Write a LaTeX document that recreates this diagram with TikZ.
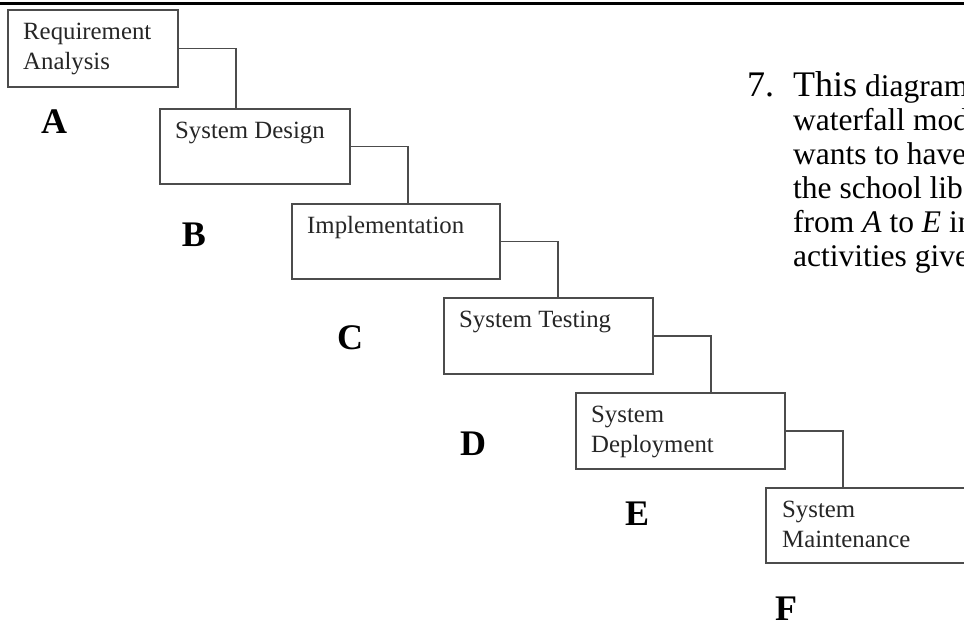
\documentclass[tikz,border=0pt]{standalone}
\usepackage{fontspec}
\setmainfont{Liberation Serif}
\usepackage{tikz}
\usetikzlibrary{positioning, calc}

\begin{document}
\begin{tikzpicture}[x=1pt, y=-1pt,
    stage/.style={draw=black!70, line width=1.8pt, fill=white, inner sep=0pt, anchor=north west},
    stagetext/.style={inner sep=0pt, anchor=north west, align=left, text=black!85,
        font=\fontsize{24.8}{30}\selectfont},
    link/.style={draw=black!70, line width=1.8pt},
    letter/.style={font=\fontsize{36}{40}\selectfont\bfseries},
    qtext/.style={inner sep=0pt, anchor=base west, font=\fontsize{31.5}{35}\selectfont}]
    \useasboundingbox (0,0) rectangle (964,624);
    \clip (0,0) rectangle (964,624);

    % rule on top
    \draw[line width=3pt] (0,3) -- (964,3);

    % stages
    \node[stage, minimum width=170, minimum height=77] (ra) at (7,9) {};
    \node[stage, minimum width=190, minimum height=75] (sd) at (159,108) {};
    \node[stage, minimum width=208, minimum height=75] (im) at (291,203) {};
    \node[stage, minimum width=209, minimum height=76] (st) at (443,297) {};
    \node[stage, minimum width=209, minimum height=76] (dp) at (575,392) {};
    \node[stage, minimum width=260, minimum height=75] (mt) at (765,487) {};

    \node[stagetext] (ra-t) at ([shift={(16,9)}]ra.north west) {\strut Requirement\\Analysis};
    \node[stagetext] (sd-t) at ([shift={(16,9)}]sd.north west) {\strut System Design};
    \node[stagetext] (im-t) at ([shift={(16,9)}]im.north west) {\strut Implementation};
    \node[stagetext] (st-t) at ([shift={(16,9)}]st.north west) {\strut System Testing};
    \node[stagetext] (dp-t) at ([shift={(16,9)}]dp.north west) {\strut System\\Deployment};
    \node[stagetext] (mt-t) at ([shift={(17,9)}]mt.north west) {\strut System\\Maintenance};

    % steps between stages
    \foreach \a/\b in {ra/sd, sd/im, im/st, st/dp, dp/mt}
        \draw[link] (\a.east) -- ++(57,0) coordinate (\a-k) -- (\a-k |- \b.north);

    % letters
    \node[letter] (la) at (54,122) {A};
    \node[letter] (lb) at (194,235) {B};
    \node[letter] (lc) at (350,338) {C};
    \node[letter] (ld) at (473,444) {D};
    \node[letter] (le) at (637,514) {E};
    \node[letter] (lf) at (786,609) {F};

    % question text, cut at the right
    \node[qtext] (qn) at (747,96) {\fontsize{36}{40}\selectfont 7.};
    \node[qtext] (q0) at (793,96) {{\fontsize{36}{40}\selectfont This} diagram};
    \foreach \t [count=\i] in {waterfall mod, wants to have, the school lib,
        from \textit{A} to \textit{E} in, activities give}
        \node[qtext] (q\i) at (793,96+34*\i) {\t};
\end{tikzpicture}
\end{document}
